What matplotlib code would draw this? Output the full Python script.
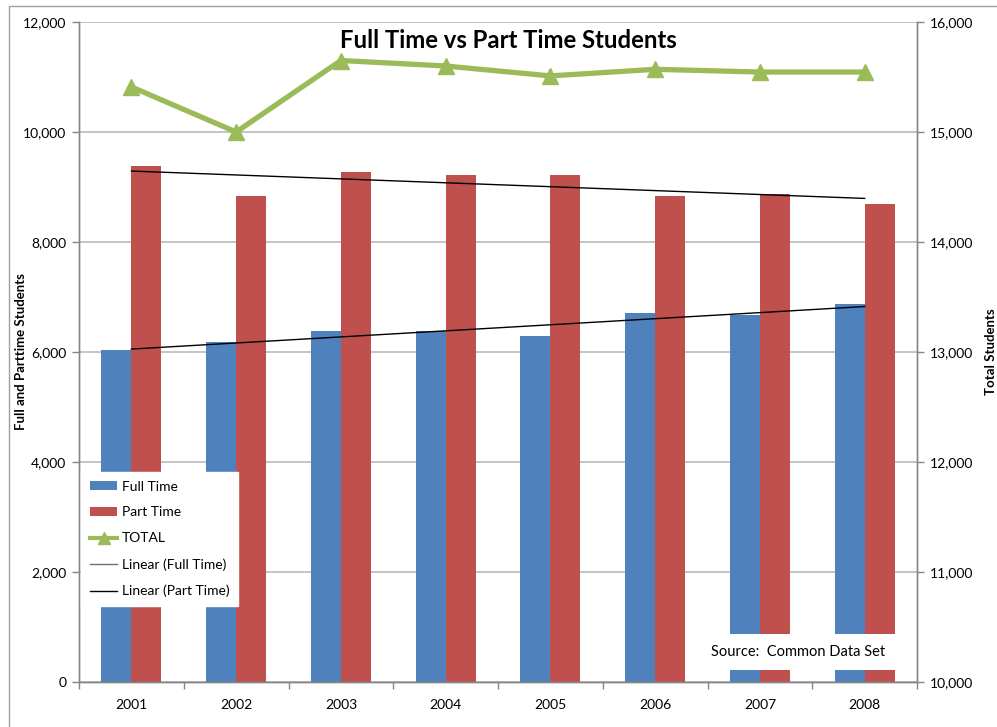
import matplotlib
matplotlib.use("Agg")
import matplotlib.pyplot as plt
import numpy as np
from matplotlib.lines import Line2D
from matplotlib.patches import Patch, Rectangle
from matplotlib.ticker import FuncFormatter, FixedLocator

plt.rcParams['font.family'] = ['Lato', 'DejaVu Sans']

years = ['2001', '2002', '2003', '2004', '2005', '2006', '2007', '2008']
full_time = [6030, 6180, 6380, 6380, 6290, 6710, 6680, 6870]
part_time = [9380, 8840, 9270, 9220, 9220, 8840, 8870, 8690]
total = [15410, 15000, 15650, 15600, 15510, 15570, 15545, 15545]

BLUE = '#4F81BD'
RED = '#C0504D'
GREEN = '#9BBB59'
AXIS_GRAY = '#868686'
GRID_GRAY = '#BFBFBF'

W, H = 997, 727
fig = plt.figure(figsize=(W / 100, H / 100), dpi=100)

# outer chart-area border
fig.patches.append(Rectangle((9 / W, -0.1), 1.2, 1 - 6 / H + 0.1, transform=fig.transFigure,
                             fill=False, edgecolor='#A0A0A0', linewidth=1.0))

x0, x1, y0, y1 = 79, 917, 22, 682
ax = fig.add_axes([x0 / W, 1 - y1 / H, (x1 - x0) / W, (y1 - y0) / H])
ax2 = ax.twinx()

x = np.arange(len(years))
bw = 0.286
ax.bar(x - bw / 2, full_time, bw, color=BLUE, zorder=2)
ax.bar(x + bw / 2, part_time, bw, color=RED, zorder=2)

# linear trend lines through the bar values
for vals in (full_time, part_time):
    k, b = np.polyfit(x, vals, 1)
    ax.plot(x, k * x + b, color='black', linewidth=1.0, zorder=3)

ax.set_xlim(-0.5, len(years) - 0.5)
ax.set_ylim(0, 12000)
ax.set_yticks(np.arange(0, 12001, 2000))
ax.yaxis.set_major_formatter(FuncFormatter(lambda v, p: f'{int(v):,}'))
ax.grid(axis='y', color=GRID_GRAY, linewidth=1.3, zorder=0)
ax.set_axisbelow(True)

ax.set_xticks(x)
ax.set_xticklabels(years)
ax.xaxis.set_minor_locator(FixedLocator(np.arange(-0.5, len(years), 1.0)))
ax.tick_params(axis='x', which='major', length=0, pad=12, labelsize=10)
ax.tick_params(axis='x', which='minor', length=5, color=AXIS_GRAY, width=1)
ax.tick_params(axis='y', length=5, color=AXIS_GRAY, width=1, labelsize=10, pad=4)

for a in (ax, ax2):
    a.spines['top'].set_visible(False)
    for s in ('left', 'right', 'bottom'):
        a.spines[s].set_color(AXIS_GRAY)
        a.spines[s].set_linewidth(1.0)

ax2.plot(x, total, color=GREEN, linewidth=3.8, marker='^', markersize=12,
         markerfacecolor=GREEN, markeredgecolor=GREEN, zorder=4)
ax2.set_ylim(10000, 16000)
ax2.set_yticks(np.arange(10000, 16001, 1000))
ax2.yaxis.set_major_formatter(FuncFormatter(lambda v, p: f'{int(v):,}'))
ax2.tick_params(axis='y', length=5, color=AXIS_GRAY, width=1, labelsize=10, pad=4)

ax.set_ylabel('Full and Parttime Students', fontsize=9.5, fontweight='bold')
ax.yaxis.set_label_coords((27 - x0) / (x1 - x0), 0.5)
ax2.set_ylabel('Total Students', fontsize=9.5, fontweight='bold', rotation=90)
ax2.yaxis.set_label_coords((985 - x0) / (x1 - x0), 0.5)

ax2.text(0.512, 0.972, 'Full Time vs Part Time Students', transform=ax2.transAxes,
         ha='center', va='center', fontsize=17.2, fontweight='bold', zorder=6)

handles = [
    Patch(facecolor=BLUE, edgecolor='none'),
    Patch(facecolor=RED, edgecolor='none'),
    Line2D([], [], color=GREEN, linewidth=3, marker='^', markersize=8),
    Line2D([], [], color='#707070', linewidth=1.0),
    Line2D([], [], color='black', linewidth=1.0),
]
labels = ['Full Time', 'Part Time', 'TOTAL', 'Linear (Full Time)', 'Linear (Part Time)']
leg = ax2.legend(handles, labels, loc='upper left',
                 bbox_to_anchor=((81 - x0) / (x1 - x0), (y1 - 472) / (y1 - y0)),
                 frameon=True, fancybox=False, facecolor='white', edgecolor='white',
                 framealpha=1.0, fontsize=10, handlelength=2.0, handleheight=0.6,
                 labelspacing=1.0, borderpad=0.62, handletextpad=0.3, borderaxespad=0)
leg.set_zorder(10)

ax2.text((711 - x0) / (x1 - x0), (y1 - 652) / (y1 - y0), 'Source:  Common Data Set',
         transform=ax2.transAxes, ha='left', va='center', fontsize=10.5, zorder=11,
         bbox=dict(boxstyle='square,pad=0.75', facecolor='white', edgecolor='none'))

fig.savefig('out.png', dpi=100)
